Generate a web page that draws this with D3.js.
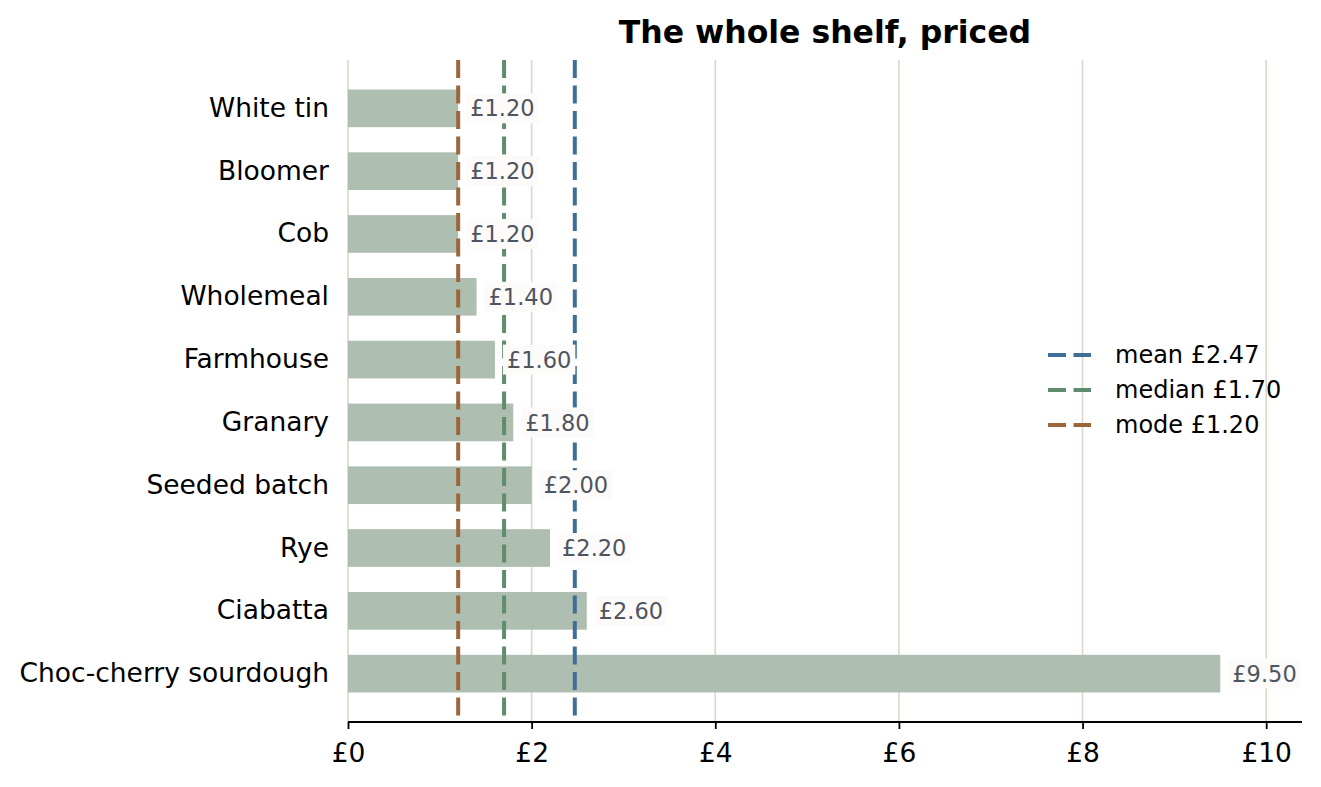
<!DOCTYPE html>
<html>
<head>
<meta charset="utf-8">
<script src="https://cdn.jsdelivr.net/npm/d3@7"></script>
<style>
  body { margin: 0; background: #fff; }
  svg { font-family: 'DejaVu Sans', sans-serif; }
</style>
</head>
<body>
<svg id="chart" width="1321" height="787"></svg>
<script>
// bread names, top to bottom, and shelf prices in pounds
let breads = [
    'White tin', 'Bloomer', 'Cob', 'Wholemeal', 'Farmhouse', 'Granary',
    'Seeded batch', 'Rye', 'Ciabatta', 'Choc-cherry sourdough'
]
let prices = [1.20, 1.20, 1.20, 1.40, 1.60, 1.80, 2.00, 2.20, 2.60, 9.50]
let xTicks = [0, 2, 4, 6, 8, 10]
let statNames = ['mean', 'median', 'mode']
let statValues = [2.47, 1.70, 1.20]

function main() {
    let svg = d3.select('#chart'),
        margin = {top: 60, bottom: 65, left: 348, right: 19},
        width = svg.attr('width') - margin.left - margin.right,
        height = svg.attr('height') - margin.top - margin.bottom

    let data = breads.map((b, i) => ({name: b, price: prices[i]}))
    let stats = statNames.map((s, i) => ({name: s, value: statValues[i]}))

    let x = d3.scaleLinear().domain([0, 10.39]).range([margin.left, margin.left + width]),
        y = d3.scaleBand().domain(breads).range([margin.top, margin.top + height])
            .paddingInner(0.4).paddingOuter(0.47),
        statColor = d3.scaleOrdinal(['#3e6f99', '#5f8c6c', '#9a663a']).domain(statNames)

    // grid
    svg.append('g')
        .selectAll('line')
        .data(xTicks)
        .enter()
        .append('line')
        .attr('x1', d => x(d)).attr('x2', d => x(d))
        .attr('y1', margin.top).attr('y2', margin.top + height)
        .attr('stroke', '#dad6ca')
        .attr('stroke-width', 1.6)

    svg.append('text')
        .attr('x', margin.left + width / 2)
        .attr('y', 43)
        .attr('text-anchor', 'middle')
        .attr('font-size', 31.5)
        .attr('font-weight', 'bold')
        .text('The whole shelf, priced')

    // bars
    svg.append('g')
        .selectAll('rect')
        .data(data)
        .enter()
        .append('rect')
        .attr('x', x(0))
        .attr('y', d => y(d.name))
        .attr('width', d => x(d.price) - x(0))
        .attr('height', y.bandwidth())
        .attr('fill', '#aebeb1')

    // mean / median / mode lines
    svg.append('g')
        .selectAll('line')
        .data(stats)
        .enter()
        .append('line')
        .attr('x1', d => x(d.value)).attr('x2', d => x(d.value))
        .attr('y1', margin.top).attr('y2', margin.top + height)
        .attr('stroke', d => statColor(d.name))
        .attr('stroke-width', 4)
        .attr('stroke-dasharray', '18,7.5')

    // value labels with a light box
    let labels = svg.append('g')
        .selectAll('g')
        .data(data)
        .enter()
        .append('g')
        .attr('transform', d => 'translate(' + (x(d.price) + 8) + ',' + (y(d.name) + y.bandwidth() / 2) + ')')

    labels.append('rect')
        .attr('x', 0).attr('y', -15)
        .attr('height', 30)
        .attr('fill', '#fcfbf9')

    labels.append('text')
        .attr('x', 4)
        .attr('dy', '0.36em')
        .attr('font-size', 22.5)
        .attr('fill', '#4f5560')
        .text(d => '£' + d.price.toFixed(2))
        .each(function() {
            d3.select(this.parentNode).select('rect')
                .attr('width', this.getComputedTextLength() + 8)
        })

    // axes
    let xAxis = svg.append('g')
        .attr('transform', 'translate(0,' + (margin.top + height) + ')')
        .call(d3.axisBottom(x).tickValues(xTicks).tickFormat(d => '£' + d).tickSize(7).tickSizeOuter(0))
    xAxis.select('.domain').attr('stroke', '#000').attr('stroke-width', 1.8)
        .attr('d', 'M' + margin.left + ',0H' + (margin.left + width))
    xAxis.selectAll('.tick line').attr('stroke', '#000').attr('stroke-width', 1.8)
    xAxis.selectAll('.tick text').attr('font-size', 26.5).attr('fill', '#000')
        .attr('font-family', 'DejaVu Sans').attr('y', 21).attr('dy', '0.71em')

    let yAxis = svg.append('g')
        .attr('transform', 'translate(' + margin.left + ',0)')
        .call(d3.axisLeft(y).tickSize(0).tickPadding(19))
    yAxis.select('.domain').remove()
    yAxis.selectAll('.tick text').attr('font-size', 26.5).attr('fill', '#000')
        .attr('font-family', 'DejaVu Sans')

    // legend
    let legend = svg.append('g')
        .attr('transform', 'translate(1048,355)')
        .selectAll('g')
        .data(stats)
        .enter()
        .append('g')
        .attr('transform', (d, i) => 'translate(0,' + (i * 35) + ')')

    legend.append('line')
        .attr('x1', 0).attr('x2', 43)
        .attr('stroke', d => statColor(d.name))
        .attr('stroke-width', 4)
        .attr('stroke-dasharray', '18,7.5')

    legend.append('text')
        .attr('x', 67)
        .attr('dy', '0.35em')
        .attr('font-size', 24)
        .text(d => d.name + ' £' + d.value.toFixed(2))
}

main()
</script>
</body>
</html>
